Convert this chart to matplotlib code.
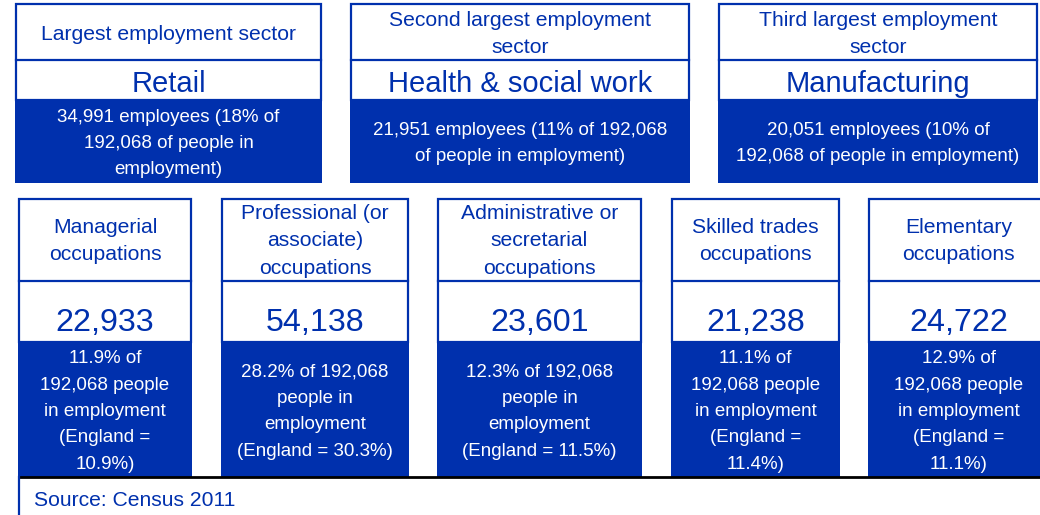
import matplotlib
matplotlib.use("Agg")
import matplotlib.pyplot as plt
from matplotlib.patches import Rectangle

plt.rcParams['font.family'] = ['Liberation Sans', 'DejaVu Sans']

BLUE = '#0030AD'

# top row: employment sectors
sector_titles = ['Largest employment sector',
                 'Second largest employment\nsector',
                 'Third largest employment\nsector']
sector_names = ['Retail', 'Health & social work', 'Manufacturing']
sector_notes = ['34,991 employees (18% of\n192,068 of people in\nemployment)',
                '21,951 employees (11% of 192,068\nof people in employment)',
                '20,051 employees (10% of\n192,068 of people in employment)']

# bottom row: occupations
occ_titles = ['Managerial\noccupations',
              'Professional (or\nassociate)\noccupations',
              'Administrative or\nsecretarial\noccupations',
              'Skilled trades\noccupations',
              'Elementary\noccupations']
occ_counts = [22933, 54138, 23601, 21238, 24722]
occ_notes = ['11.9% of\n192,068 people\nin employment\n(England =\n10.9%)',
             '28.2% of 192,068\npeople in\nemployment\n(England = 30.3%)',
             '12.3% of 192,068\npeople in\nemployment\n(England = 11.5%)',
             '11.1% of\n192,068 people\nin employment\n(England =\n11.4%)',
             '12.9% of\n192,068 people\nin employment\n(England =\n11.1%)']
source = 'Source: Census 2011'

fig = plt.figure(figsize=(10.4, 5.15), dpi=100)
ax = fig.add_axes([0, 0, 1, 1])
ax.set_xlim(0, 1040)
ax.set_ylim(515, 0)
ax.axis('off')


def card(x0, x1, top, mid, blue_top, bottom, title, value, note, ty, vy, title_fs, value_fs, note_fs):
    w = x1 - x0
    ax.add_patch(Rectangle((x0, top), w, blue_top - top, facecolor='white',
                           edgecolor=BLUE, lw=1.6, zorder=1))
    ax.plot([x0, x1], [mid, mid], color=BLUE, lw=1.6, zorder=2)
    ax.add_patch(Rectangle((x0 - 0.8, blue_top), w + 1.6, bottom - blue_top,
                           facecolor=BLUE, edgecolor='none', zorder=2))
    cx = (x0 + x1) / 2
    ax.text(cx, ty, title, ha='center', va='center', color=BLUE,
            fontsize=title_fs, linespacing=1.56, zorder=3)
    ax.text(cx, vy, value, ha='center', va='center', color=BLUE,
            fontsize=value_fs, zorder=3)
    ax.text(cx, (blue_top + bottom) / 2 + 2, note, ha='center', va='center',
            color='white', fontsize=note_fs, linespacing=1.72, zorder=3)


top_x = [(16, 321), (351, 689), (719, 1037)]
for (x0, x1), t, n, note in zip(top_x, sector_titles, sector_names, sector_notes):
    card(x0, x1, 4, 60, 100, 183, t, n, note, 34, 84, 15.2, 21, 13.5)

bot_x = [(19, 191), (222, 408), (438, 641), (672, 839), (869, 1048)]
for (x0, x1), t, c, note in zip(bot_x, occ_titles, occ_counts, occ_notes):
    card(x0, x1, 199, 281, 342, 477, t, f'{c:,}', note, 241, 323, 15.2, 23.2, 13.5)

# source strip
ax.plot([19, 1040], [477, 477], color='black', lw=2, zorder=4)
ax.plot([19, 19], [477, 515], color=BLUE, lw=1.6, zorder=4)
ax.text(34, 500, source, ha='left', va='center', color=BLUE, fontsize=15.2)

fig.savefig('out.png', dpi=100)
